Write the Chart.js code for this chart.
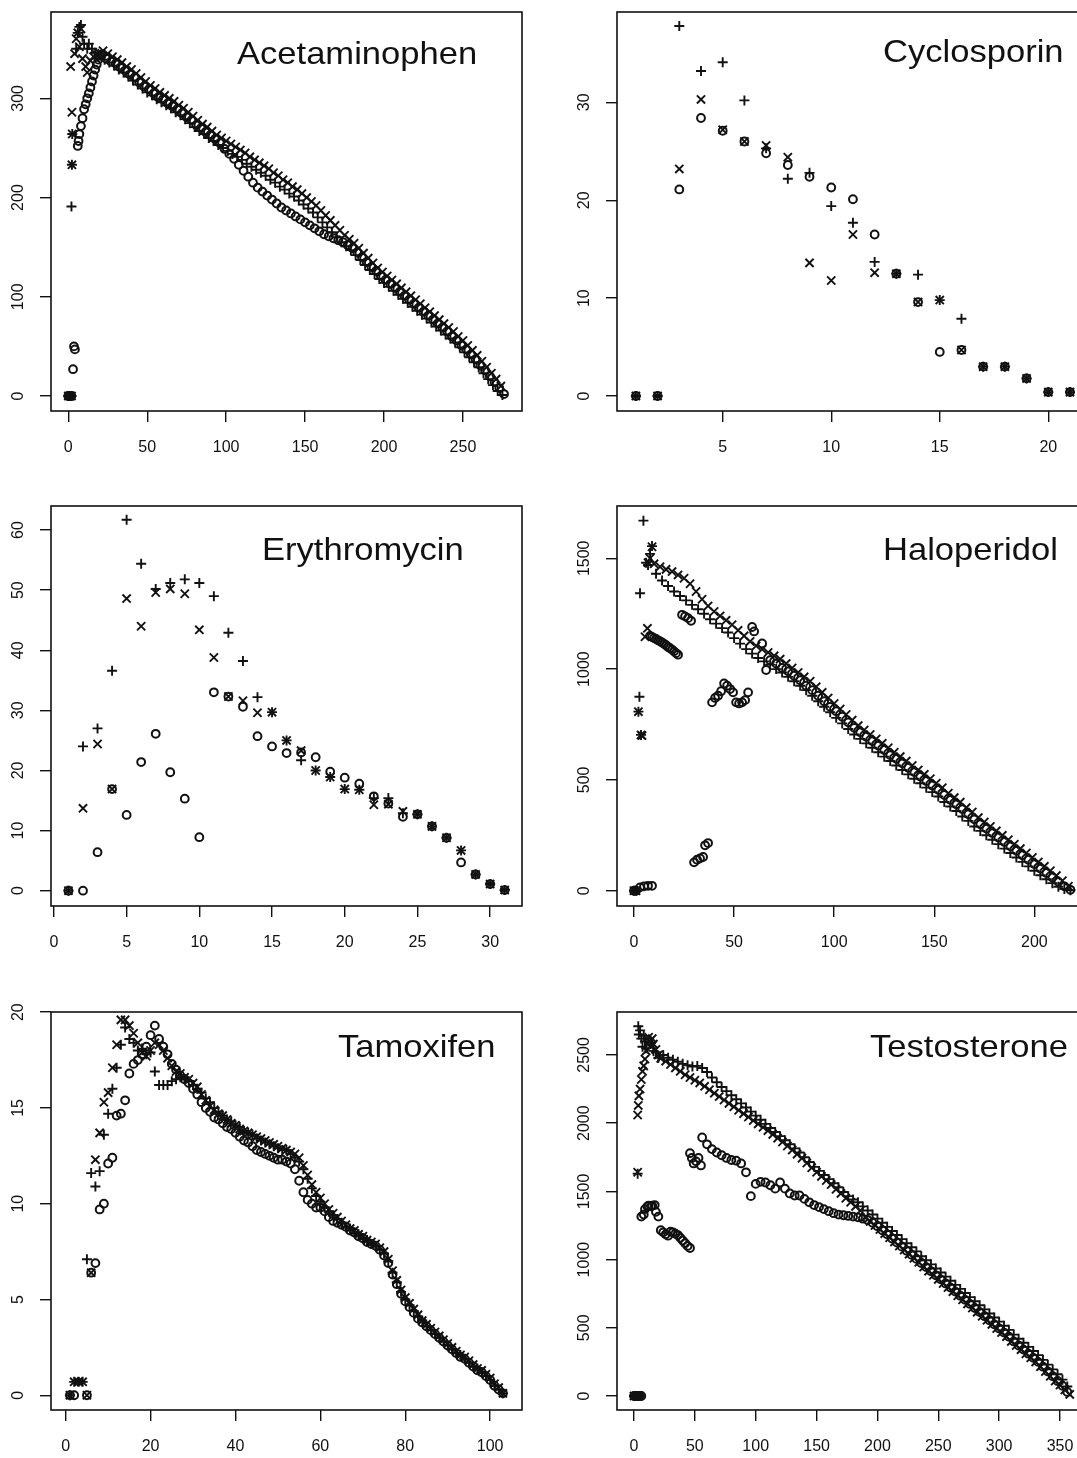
<!DOCTYPE html>
<html>
<head>
<meta charset="utf-8">
<script src="https://cdn.jsdelivr.net/npm/chart.js@4.4.1/dist/chart.umd.min.js"></script>
<style>
  html, body { margin: 0; padding: 0; background: #fff; }
  body { width: 1077px; height: 1458px; overflow: hidden; position: relative; }
  canvas { position: absolute; }
</style>
</head>
<body>
<canvas id="acet"></canvas>
<canvas id="cyclo"></canvas>
<canvas id="ery"></canvas>
<canvas id="halo"></canvas>
<canvas id="tamo"></canvas>
<canvas id="testo"></canvas>
<script>
const FONT = "'Liberation Sans', Arial, Helvetica, sans-serif";
const INK = "#111";

// ---------- Acetaminophen ----------
const acetXTicks = [0, 50, 100, 150, 200, 250];
const acetYTicks = [0, 100, 200, 300];
const acetEarlyOX = [0, 1, 2, 3, 3.6, 4.2, 6, 6.5, 7, 8, 9, 10, 11, 12, 13, 14, 15, 16, 17, 18, 19, 20];
const acetEarlyOY = [0, 0, 0, 27, 50, 47, 252, 257, 264, 272, 280, 289, 294, 300, 305, 311, 317, 323, 329, 334, 339, 343];
const acetEarlyXX = [0, 1, 2, 1.5, 2.3, 2.5, 2.3, 4, 5, 6, 7, 8, 9, 11, 12, 14, 16, 18, 20];
const acetEarlyXY = [0, 0, 0, 332, 286, 264, 233, 345, 360, 366, 352, 370, 340, 332, 326, 338, 342, 344, 345];
const acetEarlyPX = [0, 1, 2, 2, 2.3, 2.5, 5, 6, 7, 8, 9, 10, 12, 13, 15, 17, 19];
const acetEarlyPY = [0, 0, 0, 191, 233, 264, 350, 366, 372, 374, 362, 355, 350, 355, 350, 346, 345];
// band, o from day 21, x from day 22, + from day 23, every 3 days
const acetBandStep = 3;
const acetBandO = [
  344, 340, 337, 335, 331, 328, 324, 321, 316, 312,
  309, 305, 301, 299, 295, 292, 289, 285, 281, 278,
  273, 270, 266, 263, 259, 255, 249, 244, 239, 233,
  227, 221, 215, 210, 206, 202, 198, 194, 190, 187,
  184, 181, 178, 175, 172, 169, 166, 163, 161, 159,
  157, 155, 152, 149, 145, 140, 135, 130, 126, 121,
  117, 113, 109, 105, 101, 97, 93, 89, 85, 81,
  77, 73, 69, 65, 60, 56, 51, 47, 42, 37,
  31, 26, 20, 14, 8, 2
];
const acetBandX = [
  348, 345, 342, 339, 336, 332, 329, 325, 321, 317,
  313, 310, 306, 303, 300, 297, 293, 290, 286, 282,
  278, 274, 271, 267, 263, 260, 257, 254, 251, 248,
  245, 241, 238, 235, 232, 229, 225, 222, 218, 215,
  211, 208, 204, 200, 196, 192, 187, 182, 177, 172,
  167, 162, 158, 154, 149, 144, 139, 134, 129, 125,
  121, 117, 113, 109, 105, 101, 97, 93, 89, 85,
  81, 77, 73, 69, 65, 60, 56, 51, 46, 41,
  35, 29, 23, 17, 10
];
const acetBandP = [
  339, 336, 333, 329, 326, 322, 318, 314, 310, 306,
  303, 299, 296, 293, 290, 286, 283, 279, 275, 271,
  267, 264, 260, 257, 253, 250, 247, 244, 241, 238,
  234, 231, 228, 225, 222, 218, 215, 211, 208, 204,
  201, 197, 193, 189, 185, 180, 175, 170, 165, 160,
  155, 151, 147, 142, 137, 132, 127, 123, 118, 114,
  110, 106, 102, 98, 94, 90, 86, 82, 78, 74,
  70, 66, 62, 58, 54, 49, 44, 39, 34, 29,
  23, 17, 11, 5, 1
];

// ---------- Cyclosporin ----------
const cycloXTicks = [5, 10, 15, 20];
const cycloYTicks = [0, 10, 20, 30];
const cycloDays = [1, 2, 3, 4, 5, 6, 7, 8, 9, 10, 11, 12, 13, 14, 15, 16, 17, 18, 19, 20, 21];
const cycloO = [0, 0, 21.1, 28.4, 27.1, 26.0, 24.8, 23.6, 22.4, 21.3, 20.1, 16.5, 12.5, 9.6, 4.5, 4.7, 3.0, 3.0, 1.8, 0.4, 0.4];
const cycloX = [0, 0, 23.2, 30.3, 27.2, 26.0, 25.6, 24.4, 13.6, 11.8, 16.5, 12.6, 12.5, 9.6, 9.8, 4.7, 3.0, 3.0, 1.8, 0.4, 0.4];
const cycloP = [0, 0, 37.8, 33.2, 34.1, 30.2, 25.3, 22.2, 22.8, 19.4, 17.7, 13.7, 12.5, 12.4, 9.8, 7.9, 3.0, 3.0, 1.8, 0.4, 0.4];

// ---------- Erythromycin ----------
const eryXTicks = [0, 5, 10, 15, 20, 25, 30];
const eryYTicks = [0, 10, 20, 30, 40, 50, 60];
const eryDays = [1, 2, 3, 4, 5, 6, 7, 8, 9, 10, 11, 12, 13, 14, 15, 16, 17, 18, 19, 20, 21, 22, 23, 24, 25, 26, 27, 28, 29, 30, 31];
const eryO = [0, 0, 6.4, 16.9, 12.6, 21.4, 26.1, 19.7, 15.3, 8.9, 33.0, 32.3, 30.6, 25.7, 24.0, 22.9, 23.0, 22.2, 19.8, 18.8, 17.8, 15.7, 14.5, 12.3, 12.7, 10.7, 8.8, 4.7, 2.7, 1.1, 0.1];
const eryX = [0, 13.7, 24.4, 16.9, 48.6, 44.0, 49.6, 50.2, 49.4, 43.4, 38.8, 32.3, 31.6, 29.6, 29.7, 25.0, 23.3, 20.0, 18.9, 16.9, 16.8, 14.3, 14.4, 13.2, 12.7, 10.7, 8.8, 6.7, 2.7, 1.1, 0.1];
const eryP = [0, 24.0, 27.0, 36.6, 61.7, 54.4, 50.2, 51.2, 51.8, 51.2, 49.0, 42.9, 38.2, 32.2, 29.7, 25.0, 21.7, 20.0, 18.9, 16.9, 16.8, 15.4, 15.4, 12.9, 12.7, 10.7, 8.8, 6.7, 2.7, 1.1, 0.1];

// ---------- Haloperidol ----------
const haloXTicks = [0, 50, 100, 150, 200];
const haloYTicks = [0, 500, 1000, 1500];
const haloEarlyOX = [0, 1, 3, 5, 7, 9,
  8, 9, 10, 11, 12, 13, 14, 15, 16, 17, 18, 19, 20, 21, 22,
  24, 25.5, 27, 28.5,
  30, 31.5, 33, 34.5, 35.5, 37,
  39, 40.5, 42, 43.5, 45, 46.5, 48, 49.5, 51, 52.5, 54, 55.5, 57,
  59, 60, 64, 66];
const haloEarlyOY = [0, 0, 15, 20, 22, 22,
  1150, 1145, 1140, 1136, 1130, 1125, 1120, 1114, 1108, 1100, 1094, 1088, 1080, 1072, 1065,
  1245, 1238, 1230, 1218,
  128, 140, 146, 152, 205, 215,
  850, 870, 880, 900, 935, 925, 910, 895, 850, 845, 850, 860, 895,
  1190, 1170, 1116, 996];
const haloEarlyXX = [0, 1, 2.2, 3.5, 4, 5.5, 6.7, 7, 8, 9];
const haloEarlyXY = [0, 0, 808, 703, 700, 1146, 1184, 1480, 1500, 1552];
const haloEarlyPX = [0, 1, 2.2, 2.7, 3, 3.5, 4.7, 6, 7, 8, 9];
const haloEarlyPY = [0, 0, 808, 875, 1342, 703, 1670, 1480, 1470, 1520, 1555];
// x from day 10, + from day 11, o from day 68, every 3 days
const haloBandStep = 3;
const haloBandX = [
  1475, 1462, 1450, 1440, 1425, 1410, 1385, 1350, 1315, 1285,
  1260, 1240, 1220, 1200, 1175, 1150, 1125, 1105, 1090, 1075,
  1060, 1045, 1025, 1005, 985, 965, 945, 920, 895, 870,
  845, 820, 795, 770, 745, 725, 705, 685, 665, 645,
  625, 605, 585, 565, 545, 525, 505, 485, 465, 440,
  420, 400, 375, 355, 330, 310, 290, 270, 250, 230,
  210, 190, 170, 150, 130, 110, 90, 68, 45, 20
];
const haloBandP = [
  1430, 1400, 1375, 1350, 1330, 1310, 1290, 1270, 1250, 1225,
  1205, 1185, 1165, 1140, 1115, 1090, 1070, 1050, 1035, 1020,
  1000, 985, 965, 945, 925, 905, 880, 855, 830, 805,
  780, 755, 730, 705, 685, 665, 645, 625, 605, 585,
  565, 545, 525, 505, 485, 465, 445, 425, 400, 380,
  360, 335, 315, 290, 270, 250, 230, 210, 190, 170,
  150, 130, 110, 90, 70, 52, 34, 18, 8, 2
];
const haloBandO = [
  1040, 1025, 1005, 990, 970, 950, 925, 905, 880, 855,
  830, 810, 785, 760, 735, 715, 695, 675, 655, 635,
  612, 595, 575, 555, 535, 515, 495, 475, 455, 432,
  410, 390, 368, 345, 322, 300, 280, 260, 240, 220,
  200, 180, 160, 140, 120, 100, 80, 60, 40, 20,
  4
];

// ---------- Tamoxifen ----------
const tamoXTicks = [0, 20, 40, 60, 80, 100];
const tamoYTicks = [0, 5, 10, 15, 20];
const tamoEarlyOX = [1, 2, 5, 6, 7, 8, 9, 10, 11, 12, 13, 14, 15, 16, 17, 18, 19, 20, 21];
const tamoEarlyOY = [0, 0, 0, 6.4, 6.9, 9.7, 10.0, 12.1, 12.4, 14.6, 14.7, 15.4, 16.8, 17.3, 17.5, 17.8, 18.2, 18.8, 19.3];
const tamoEarlyXX = [1, 2, 3, 4, 5, 6, 7, 8, 9, 10, 11, 12, 13, 14, 15, 16, 17, 18, 19, 20, 21];
const tamoEarlyXY = [0, 0.7, 0.7, 0.7, 0, 6.4, 12.3, 13.7, 15.3, 15.8, 17.1, 18.3, 19.6, 19.6, 19.3, 18.9, 18.4, 17.9, 17.7, 18.0, 18.4];
const tamoEarlyPX = [1, 2, 3, 4, 5, 6, 7, 8, 9, 10, 11, 12, 13, 14, 15, 16, 17, 18, 19, 20, 21, 22, 23, 24];
const tamoEarlyPY = [0, 0.7, 0.7, 0.7, 7.1, 11.6, 10.9, 11.7, 13.6, 14.7, 16.0, 17.1, 18.3, 19.2, 18.6, 18.4, 18.0, 18.1, 17.8, 17.9, 16.9, 16.2, 16.2, 16.2];
// daily: o and x from day 22, + from day 25
const tamoBandO = [
  18.6, 18.2, 17.8, 17.3, 17.0, 16.7, 16.5, 16.3, 16.0, 15.7,
  15.3, 15.0, 14.8, 14.5, 14.4, 14.2, 14.0, 13.9, 13.7, 13.5,
  13.3, 13.2, 13.0, 12.8, 12.7, 12.6, 12.5, 12.4, 12.3, 12.3,
  12.2, 12.1, 11.8, 11.2, 10.6, 10.2, 10.0, 9.8, 9.8, 9.6,
  9.3, 9.1, 9.0, 8.9, 8.8, 8.6, 8.5, 8.3, 8.2, 8.0,
  7.9, 7.8, 7.6, 7.3, 6.9, 6.3, 5.8, 5.3, 4.9, 4.6,
  4.3, 4.0, 3.8, 3.6, 3.4, 3.2, 3.0, 2.8, 2.6, 2.4,
  2.2, 2.0, 1.9, 1.7, 1.5, 1.3, 1.2, 1.0, 0.8, 0.5,
  0.3, 0.1
];
const tamoBandX = [
  18.3, 18.0, 17.6, 17.2, 16.9, 16.8, 16.6, 16.5, 16.3, 16.1,
  15.7, 15.4, 15.1, 14.9, 14.7, 14.6, 14.4, 14.2, 14.1, 13.9,
  13.8, 13.7, 13.6, 13.5, 13.4, 13.3, 13.2, 13.1, 13.0, 12.9,
  12.8, 12.7, 12.6, 12.4, 12.0, 11.5, 11.0, 10.6, 10.3, 10.0,
  9.7, 9.5, 9.3, 9.1, 8.9, 8.7, 8.6, 8.4, 8.3, 8.1,
  8.0, 7.9, 7.7, 7.5, 7.1, 6.5, 6.0, 5.5, 5.1, 4.8,
  4.5, 4.2, 3.9, 3.7, 3.5, 3.3, 3.1, 2.9, 2.7, 2.5,
  2.3, 2.1, 2.0, 1.8, 1.6, 1.4, 1.3, 1.1, 0.9, 0.6,
  0.4, 0.1
];
const tamoBandP = [
  16.4, 16.5, 16.6, 16.5, 16.4, 16.2, 16.0, 15.8, 15.5, 15.3,
  15.0, 14.8, 14.6, 14.4, 14.3, 14.1, 14.0, 13.8, 13.7, 13.6,
  13.4, 13.3, 13.2, 13.1, 13.0, 12.9, 12.8, 12.8, 12.6, 12.4,
  12.2, 11.8, 11.3, 10.8, 10.4, 10.1, 9.8, 9.6, 9.4, 9.2,
  9.0, 8.8, 8.7, 8.5, 8.4, 8.2, 8.1, 7.9, 7.8, 7.6,
  7.4, 7.0, 6.4, 5.9, 5.4, 5.0, 4.7, 4.4, 4.1, 3.9,
  3.6, 3.4, 3.2, 3.0, 2.8, 2.6, 2.4, 2.2, 2.1, 1.9,
  1.7, 1.5, 1.4, 1.2, 1.0, 0.8, 0.5, 0.3, 0.1
];

// ---------- Testosterone ----------
const testoXTicks = [0, 50, 100, 150, 200, 250, 300, 350];
const testoYTicks = [0, 500, 1000, 1500, 2000, 2500];
const testoEarlyOX = [0, 1.5, 3, 4.5, 6,
  6, 8, 9, 11, 12, 14, 15, 17, 18, 20,
  22, 24, 26, 28, 30, 32, 34, 36, 38, 40, 42, 44, 46,
  46, 47.5, 49, 51, 53, 55];
const testoEarlyOY = [0, 0, 0, 0, 0,
  1315, 1330, 1370, 1390, 1395, 1390, 1395, 1400, 1350, 1315,
  1215, 1200, 1185, 1175, 1205, 1200, 1190, 1180, 1160, 1140, 1120, 1100, 1085,
  1780, 1745, 1705, 1720, 1745, 1690];
const testoEarlyXX = [0, 2, 4, 3, 3, 3.5, 4, 5, 6, 7, 8, 9, 10, 11, 12, 13, 14, 15, 16, 18, 20];
const testoEarlyXY = [0, 0, 0, 1640, 2060, 2130, 2200, 2250, 2320, 2380, 2420, 2470, 2530, 2580, 2630, 2600, 2560, 2620, 2580, 2540, 2500];
const testoEarlyPX = [0, 2, 4, 3, 3.5, 4, 5, 6, 7, 8, 9, 10, 12, 14, 16, 18, 20];
const testoEarlyPY = [0, 0, 0, 1630, 2710, 2650, 2680, 2620, 2560, 2640, 2600, 2550, 2600, 2590, 2530, 2520, 2480];
// every 4 days: x from day 22, + from day 24, o from day 56
const testoBandStep = 4;
const testoBandX = [
  2475, 2455, 2430, 2405, 2380, 2355, 2335, 2315, 2295, 2270,
  2245, 2220, 2195, 2170, 2145, 2120, 2095, 2070, 2045, 2020,
  1995, 1970, 1945, 1918, 1890, 1862, 1833, 1803, 1773, 1743,
  1708, 1673, 1640, 1610, 1580, 1550, 1515, 1485, 1450, 1420,
  1390, 1360, 1310, 1280, 1250, 1220, 1190, 1160, 1130, 1100,
  1070, 1040, 1010, 980, 945, 915, 885, 855, 825, 795,
  765, 735, 705, 675, 645, 615, 585, 555, 525, 495,
  465, 435, 400, 370, 340, 310, 280, 250, 215, 180,
  145, 110, 80, 45, 12
];
const testoBandP = [
  2500, 2480, 2465, 2450, 2435, 2425, 2415, 2420, 2405, 2375,
  2335, 2300, 2265, 2235, 2205, 2175, 2145, 2115, 2085, 2055,
  2025, 1995, 1965, 1935, 1905, 1875, 1845, 1815, 1785, 1750,
  1715, 1680, 1650, 1620, 1590, 1560, 1530, 1495, 1465, 1440,
  1420, 1390, 1360, 1330, 1300, 1270, 1240, 1210, 1180, 1150,
  1120, 1090, 1060, 1025, 995, 965, 935, 905, 875, 845,
  815, 785, 755, 725, 695, 665, 635, 605, 575, 545,
  515, 485, 450, 420, 390, 360, 330, 300, 265, 230,
  195, 160, 120, 70
];
const testoBandO = [
  1895, 1845, 1810, 1785, 1765, 1745, 1730, 1725, 1705, 1640,
  1465, 1555, 1570, 1565, 1545, 1520, 1565, 1520, 1485, 1470,
  1470, 1445, 1420, 1400, 1385, 1370, 1355, 1340, 1330, 1325,
  1320, 1315, 1310, 1300, 1290, 1270, 1245, 1215, 1185, 1155,
  1125, 1095, 1065, 1035, 1005, 975, 945, 915, 885, 855,
  825, 795, 765, 735, 705, 675, 645, 615, 585, 555,
  525, 495, 465, 435, 400, 370, 340, 310, 280, 250,
  215, 180, 145, 110, 75, 30
];

// ---------- helpers ----------
function zip(xs, ys) {
  return xs.map((x, i) => ({ x, y: ys[i] }));
}

function run(start, step, ys) {
  return ys.map((y, i) => ({ x: start + i * step, y }));
}

const MARKS = {
  o: { pointStyle: "circle", pointRadius: 3.9, borderWidth: 2.0 },
  x: { pointStyle: "crossRot", pointRadius: 5.8, borderWidth: 1.9 },
  p: { pointStyle: "cross", pointRadius: 5.0, borderWidth: 1.9 },
};

function marks(kind, data) {
  const m = MARKS[kind];
  return {
    data,
    pointStyle: m.pointStyle,
    pointRadius: m.pointRadius,
    pointHoverRadius: m.pointRadius,
    borderWidth: m.borderWidth,
    borderColor: INK,
    backgroundColor: "rgba(0,0,0,0)",
    showLine: false,
  };
}

const framePlugin = {
  id: "frame",
  afterDraw(chart, args, opts) {
    const { ctx, chartArea: a, scales } = chart;
    ctx.save();
    ctx.strokeStyle = INK;
    ctx.lineWidth = 1.6;
    ctx.strokeRect(a.left, a.top, a.right - a.left, a.bottom - a.top);

    const ys = scales.y;
    ctx.fillStyle = INK;
    ctx.font = `16px ${FONT}`;
    ctx.textAlign = "center";
    ctx.textBaseline = "middle";
    ys.ticks.forEach((t) => {
      const py = ys.getPixelForValue(t.value);
      ctx.save();
      ctx.translate(a.left - 32, py);
      ctx.rotate(-Math.PI / 2);
      ctx.fillText(String(t.value), 0, 0);
      ctx.restore();
    });

    ctx.font = `32px ${FONT}`;
    ctx.textAlign = "left";
    ctx.textBaseline = "alphabetic";
    ctx.translate(a.left + opts.x, a.top + opts.y);
    ctx.scale(1.08, 1);
    ctx.fillText(opts.text, 0, 0);
    ctx.restore();
  },
};

const AXIS_W = 51;
const AXIS_H = 58;
const PAD = 12;

function drawPanel(p) {
  const canvas = document.getElementById(p.id);
  canvas.width = AXIS_W + p.w + PAD;
  canvas.height = PAD + p.h + AXIS_H;
  canvas.style.left = `${p.left - AXIS_W}px`;
  canvas.style.top = `${p.top - PAD}px`;

  const gridOpts = {
    display: true,
    drawOnChartArea: false,
    drawTicks: true,
    tickLength: 11,
    color: INK,
    lineWidth: 1.4,
  };

  new Chart(canvas, {
    type: "scatter",
    data: { datasets: p.sets },
    plugins: [framePlugin],
    options: {
      responsive: false,
      animation: false,
      events: [],
      layout: { padding: { left: 0, top: PAD, right: PAD, bottom: 0 } },
      plugins: {
        legend: { display: false },
        tooltip: { enabled: false },
        frame: { text: p.title, x: p.tx, y: p.ty },
      },
      scales: {
        x: {
          type: "linear",
          min: p.xr[0],
          max: p.xr[1],
          afterBuildTicks(s) {
            s.ticks = p.xt.map((v) => ({ value: v }));
          },
          afterFit(s) {
            s.height = AXIS_H;
          },
          grid: gridOpts,
          border: { display: false },
          ticks: {
            color: INK,
            font: { family: FONT, size: 16 },
            padding: 16,
            maxRotation: 0,
            minRotation: 0,
            autoSkip: false,
            callback: (v) => String(v),
          },
        },
        y: {
          type: "linear",
          min: p.yr[0],
          max: p.yr[1],
          afterBuildTicks(s) {
            s.ticks = p.yt.map((v) => ({ value: v }));
          },
          afterFit(s) {
            s.width = AXIS_W;
          },
          grid: gridOpts,
          border: { display: false },
          ticks: { display: false },
        },
      },
    },
  });
}

const panels = [
  {
    id: "acet", title: "Acetaminophen", left: 51, top: 12, w: 471, h: 399,
    xr: [-10.96, 287.4], yr: [-15.1, 387], xt: acetXTicks, yt: acetYTicks, tx: 186, ty: 52,
    sets: [
      marks("o", zip(acetEarlyOX, acetEarlyOY).concat(run(21, acetBandStep, acetBandO))),
      marks("x", zip(acetEarlyXX, acetEarlyXY).concat(run(22, acetBandStep, acetBandX))),
      marks("p", zip(acetEarlyPX, acetEarlyPY).concat(run(23, acetBandStep, acetBandP))),
    ],
  },
  {
    id: "cyclo", title: "Cyclosporin", left: 617, top: 12, w: 471, h: 399,
    xr: [0.13, 21.83], yr: [-1.53, 39.23], xt: cycloXTicks, yt: cycloYTicks, tx: 266, ty: 50,
    sets: [
      marks("o", zip(cycloDays, cycloO)),
      marks("x", zip(cycloDays, cycloX)),
      marks("p", zip(cycloDays, cycloP)),
    ],
  },
  {
    id: "ery", title: "Erythromycin", left: 51, top: 506, w: 471, h: 400,
    xr: [-0.2, 32.19], yr: [-2.55, 64.0], xt: eryXTicks, yt: eryYTicks, tx: 211, ty: 54,
    sets: [
      marks("o", zip(eryDays, eryO)),
      marks("x", zip(eryDays, eryX)),
      marks("p", zip(eryDays, eryP)),
    ],
  },
  {
    id: "halo", title: "Haloperidol", left: 617, top: 506, w: 471, h: 400,
    xr: [-8.5, 226.8], yr: [-69, 1736], xt: haloXTicks, yt: haloYTicks, tx: 266, ty: 54,
    sets: [
      marks("o", zip(haloEarlyOX, haloEarlyOY).concat(run(68, haloBandStep, haloBandO))),
      marks("x", zip(haloEarlyXX, haloEarlyXY).concat(run(10, haloBandStep, haloBandX))),
      marks("p", zip(haloEarlyPX, haloEarlyPY).concat(run(11, haloBandStep, haloBandP))),
    ],
  },
  {
    id: "tamo", title: "Tamoxifen", left: 51, top: 1012, w: 471, h: 398,
    xr: [-3.46, 107.5], yr: [-0.77, 20.01], xt: tamoXTicks, yt: tamoYTicks, tx: 287, ty: 45,
    sets: [
      marks("o", zip(tamoEarlyOX, tamoEarlyOY).concat(run(22, 1, tamoBandO))),
      marks("x", zip(tamoEarlyXX, tamoEarlyXY).concat(run(22, 1, tamoBandX))),
      marks("p", zip(tamoEarlyPX, tamoEarlyPY).concat(run(25, 1, tamoBandP))),
    ],
  },
  {
    id: "testo", title: "Testosterone", left: 617, top: 1012, w: 471, h: 398,
    xr: [-13.97, 373], yr: [-102.6, 2815], xt: testoXTicks, yt: testoYTicks, tx: 253, ty: 45,
    sets: [
      marks("o", zip(testoEarlyOX, testoEarlyOY).concat(run(56, testoBandStep, testoBandO))),
      marks("x", zip(testoEarlyXX, testoEarlyXY).concat(run(22, testoBandStep, testoBandX))),
      marks("p", zip(testoEarlyPX, testoEarlyPY).concat(run(24, testoBandStep, testoBandP))),
    ],
  },
];

panels.forEach(drawPanel);
</script>
</body>
</html>
